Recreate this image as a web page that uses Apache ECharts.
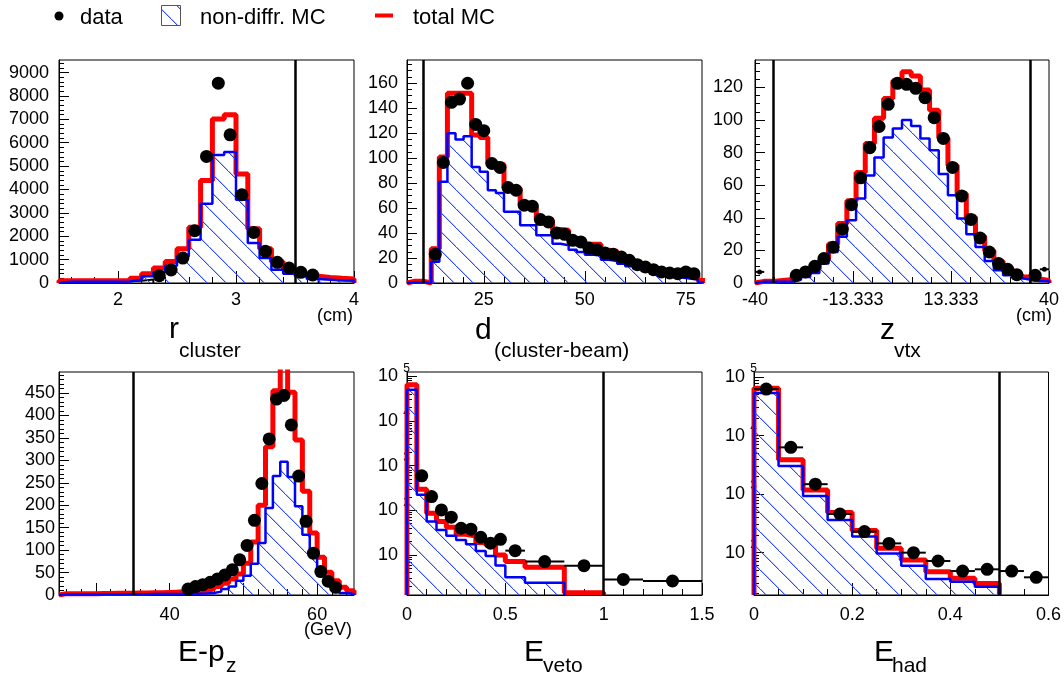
<!DOCTYPE html>
<html>
<head>
<meta charset="utf-8">
<script src="https://cdn.jsdelivr.net/npm/echarts@6/dist/echarts.min.js"></script>
<style>
  html, body { margin: 0; background: #fff; }
  #chart { width: 1064px; height: 678px; }
</style>
</head>
<body>
<div id="chart"></div>
<script>
const FONT = '"Liberation Sans", Arial, Helvetica, sans-serif';

function bins(lo, w, n) {
  return Array.from({length: n + 1}, (_, i) => +(lo + i * w).toFixed(6));
}
function steps(a, b, d) {
  const out = [];
  for (let v = a; v <= b + d * 1e-6; v += d) out.push(+v.toFixed(6));
  return out;
}
function logMinor(lo, hi) {
  const out = [];
  for (let e = -1; e <= 6; e++) for (let m = 2; m <= 9; m++) {
    const v = m * Math.pow(10, e);
    if (v >= lo && v <= hi) out.push(v);
  }
  return out;
}

// ---- r_cluster (cm), bins of 0.1
const rEdges = bins(1.5, 0.1, 25);
const rTotalMC   = [100,100,100,100,100,110,200,400,640,925,1460,2380,4390,7020,7200,4660,2320,1470,910,600,385,285,240,200,170];
const rNonDiffMC = [50,50,50,50,50,60,140,285,455,740,1140,1850,3390,5480,5600,3560,1710,1070,570,400,285,170,140,110,100];
const rDataX = [2.35,2.45,2.55,2.65,2.75,2.85,2.95,3.05,3.15,3.25,3.35,3.45,3.55,3.65];
const rDataY = [313,555,1068,2236,5413,8547,6339,3775,2165,1353,883,641,456,342];
const rTailLoEdges = bins(1.5, 0.1, 8);
const rTailLo = [60,60,60,60,60,70,100,150];
const rTailHiEdges = bins(3.7, 0.1, 3);
const rTailHi = [230,190,160];
const rXLabels = [2,3,4];
const rYLabels = [0,1000,2000,3000,4000,5000,6000,7000,8000,9000];

// ---- d(cluster-beam), bins of 2
const dEdges = bins(6, 2, 37);
const dTotalMC   = [1.5,1.5,0,27.5,101,152,152,152,118.5,116.6,95.7,95,76.5,75.7,62.3,61,50.8,50.3,42.8,42.2,35.6,34.2,31,31,26.2,25.4,22.2,19.5,16,13.4,11.5,9.6,8.8,8,7,6.1,2];
const dNonDiffMC = [0.5,0.5,0,17,81,120,115,117.6,93,89,74.3,72,57,57,46.3,46.3,38.2,38.2,31.5,30.2,26.7,24.9,22.7,22.2,18.7,17.6,15.5,13.4,11.5,9.6,8,6.1,5.3,4.3,3.5,2.7,0.5];
const dDataX = [13,15,17,19,21,23,25,27,29,31,33,35,37,39,41,43,45,47,49,51,53,55,57,59,61,63,65,67,69,71,73,75,77];
const dDataY = [23,96.5,144.7,147.3,160,127,122,95.7,92.5,76.5,74.3,62.3,61.5,50.8,48.9,40,39,34.2,32.9,28,26.7,24,23,20.9,18.2,14.7,12.8,10.7,8.8,8,7.5,8.8,7.5];
const dTailEdges = bins(6, 2, 3);
const dTail = [1.5,1.5,0.5];
const dXLabels = [25,50,75];
const dYLabels = [0,20,40,60,80,100,120,140,160];

// ---- z_vtx (cm), bins of 2.5
const zEdges = bins(-40, 2.5, 32);
const zTotalMC   = [1,1,1.6,2,3.7,5.7,8.8,14,24,36.5,50.4,67.8,85.6,101,113.2,124,129.6,127,118.4,106,89,72.3,54.9,40.5,28.9,20,13.3,8.8,5.3,3.7,2.5,1.6];
const zNonDiffMC = [0.8,0.8,0.8,0.8,2,3.7,6.1,11.9,19,28.3,38.5,51.8,66,77,89.3,94.8,100,96.3,88.7,81.5,66.8,53.9,39.5,29.9,22.1,13.5,7.8,4.7,3.1,2,1.2,1.2];
const zDataX = [-28.75,-26.25,-23.75,-21.25,-18.75,-16.25,-13.75,-11.25,-8.75,-6.25,-3.75,-1.25,1.25,3.75,6.25,8.75,11.25,13.75,16.25,18.75,21.25,23.75,26.25,28.75,31.25,36.25];
const zDataY = [4.7,6.8,10.2,15,22,33,48,64.5,83,96,109.6,122.5,121.9,119.4,113.7,101.4,88.7,70.9,53.4,39,27.6,19,11.9,8.4,5.1,4.7];
const zOutX = [-38.75,38.75];
const zOutY = [6.8,8.4];
const zTailEdges = bins(-35, 2.5, 2);
const zTail = [1.5,2.2];
const zXLabels = [-40,-13.333,13.333,40];
const zYLabels = [0,20,40,60,80,100,120];

// ---- E-pz (GeV), bins of 1
const eEdges = bins(25, 1, 40);
const eTotalMC   = [3,3,3,3,3,3.5,3.5,4,4,4,4.5,4.5,5,5,5.5,6,6.5,7,8,9.7,13.4,18.7,26,35.8,47,70.9,118,200,330.6,455,540,452,345.5,231,138,84.3,50.7,32,17.2,9.7];
const eNonDiffMC = [1,1,1,1,1,1,1,1,1.5,1.5,1.5,1.5,2,2,2,2,2.5,2.5,3,3.5,4.5,7.5,13.4,18.7,32,43,69.4,115.7,194,265,297,263,197.8,134.3,84.3,47,22.4,9.7,4.5,2];
const eDataX = [42.5,43.5,44.5,45.5,46.5,47.5,48.5,49.5,50.5,51.5,52.5,53.5,54.5,55.5,56.5,57.5,58.5,59.5,60.5,61.5,62.5];
const eDataY = [13.4,18.7,23,28.4,35.8,44.8,56,78.4,110.4,166.4,248.5,347.8,436.6,444.8,379,265,164.2,93.3,52.2,30.6,17.2];
const eTailEdges = bins(25, 1, 17);
const eTail = [0.5,0.8,1,1.3,1.6,2,2.4,2.8,3.2,3.7,4.2,4.9,5.6,6.5,7.5,8.7,10];
const eXLabels = [40,60];
const eYLabels = [0,50,100,150,200,250,300,350,400,450];

// ---- E_veto (log)
const vTotalEdges = [0,0.05,0.1,0.15,0.2,0.25,0.3,0.35,0.4,0.45,0.5,0.6,0.8,1.0];
const vTotalMC    = [64600,295,86,56,42,29,26.7,18.9,16.8,10,7.1,5.3,1.43];
const vNonDiffEdges = [0,0.05,0.1,0.15,0.2,0.25,0.3,0.35,0.4,0.45,0.5,0.6,0.8];
const vNonDiffMC    = [50000,222,56,36,27,21.7,17.4,12.3,9.5,5.8,3.16,2.4];
const vDataX  = [0.075,0.125,0.175,0.225,0.275,0.325,0.375,0.425,0.475,0.55,0.7,0.9,1.1,1.35];
const vDataY  = [590,203,102,70,39.6,37.7,24.9,18.3,22.4,12.5,7.1,5.76,2.84,2.61];
const vDataLo = [null,null,null,null,null,null,null,null,null,0.5,0.6,0.8,1.0,1.2];
const vDataHi = [null,null,null,null,null,null,null,null,null,0.6,0.8,1.0,1.2,1.5];
const vXLabels = [0,0.5,1,1.5];
const vYLabels = [10,100,1000,10000,100000];

// ---- E_had (log), bins of 0.05
const hEdges = bins(0, 0.05, 10);
const hTotalMC   = [64700,3860,1180,484,238,119,75,47,36.4,29.8];
const hNonDiffMC = [53300,3040,933,362,188,97,60,35.5,31.9,26.2];
const hDataEdges = bins(0, 0.05, 12);
const hDataY = [62400,6300,1480,458,229,144,100,72,48.5,51.9,48.5,37.9];
const hXLabels = [0,0.2,0.4,0.6];
const hYLabels = [100,1000,10000,100000];

// hatch pattern for the non-diffractive MC: thin "\" lines
const hatch = document.createElement('canvas');
hatch.width = hatch.height = 19;
const hg = hatch.getContext('2d');
hg.fillStyle = '#2f4dff';
for (let k = 0; k < 19; k++) hg.fillRect(k, k, 1, 1);
hg.fillStyle = 'rgba(47,77,255,0.35)';
for (let k = 0; k < 18; k++) hg.fillRect(k + 1, k, 1, 1);
const hatchFill = {image: hatch, repeat: 'repeat'};

function histPts(edges, vals, base) {
  const n = vals.length;
  const pts = [[edges[0], base]];
  vals.forEach((v, i) => pts.push([edges[i], Math.max(v, base)]));
  pts.push([edges[n], Math.max(vals[n - 1], base)]);
  pts.push([edges[n], base]);
  return pts;
}

const linFmt = v => String(v);
const logFmt = v => {
  const e = Math.round(Math.log10(v));
  return '{b|10}{s|' + (e === 1 ? ' ' : e) + '}';
};
const rich = {
  b: {fontSize: 18, fontFamily: FONT, color: '#000', verticalAlign: 'middle'},
  s: {fontSize: 12, fontFamily: FONT, color: '#000', verticalAlign: 'top', padding: [0, 0, 16, 5], width: 7}
};

const panels = [
  {box: [59, 60, 295, 223],
   x: {min: 1.5, max: 4, major: rXLabels, labels: rXLabels, minor: steps(1.6, 3.8, 0.2)}, xm: 8,
   y: {min: 0, max: 9540, major: rYLabels, labels: rYLabels, minor: steps(200, 9400, 200)}, ym: 10,
   total: [rEdges, rTotalMC], nd: [rEdges, rNonDiffMC], data: [rDataX, rDataY],
   tails: [[rTailLoEdges, rTailLo], [rTailHiEdges, rTailHi]], cuts: [3.5]},
  {box: [407, 60, 295, 223],
   x: {min: 6, max: 79, major: dXLabels, labels: dXLabels, minor: steps(10, 75, 5)}, xm: 8,
   y: {min: 0, max: 178.6, major: dYLabels, labels: dYLabels, minor: steps(5, 175, 5)}, ym: 9,
   total: [dEdges, dTotalMC], nd: [dEdges, dNonDiffMC], data: [dDataX, dDataY],
   tails: [[dTailEdges, dTail]], cuts: [10]},
  {box: [755, 60, 294, 223],
   x: {min: -40, max: 40, major: zXLabels, labels: zXLabels,
       minor: [-34.667,-29.333,-24,-18.667,-8,-2.667,2.667,8,18.667,24,29.333,34.667]}, xm: 8,
   y: {min: 0, max: 136.8, major: zYLabels, labels: zYLabels, minor: steps(5, 135, 5)}, ym: 12,
   total: [zEdges, zTotalMC], nd: [zEdges, zNonDiffMC], data: [zDataX, zDataY],
   small: [zOutX, zOutY, 1.25], tails: [[zTailEdges, zTail]], cuts: [-35, 35]},
  {box: [59, 372, 295, 223],
   x: {min: 25, max: 65, major: [30, 40, 50, 60], labels: eXLabels, minor: steps(26, 64, 2)}, xm: 11.5,
   y: {min: 0, max: 497, major: eYLabels, labels: eYLabels, minor: steps(10, 490, 10)}, ym: 4,
   total: [eEdges, eTotalMC], nd: [eEdges, eNonDiffMC], data: [eDataX, eDataY],
   tails: [[eTailEdges, eTail]], cuts: [35]},
  {box: [407, 372, 295, 223],
   x: {min: 0, max: 1.5, major: vXLabels, labels: vXLabels, minor: steps(0.1, 1.4, 0.1)}, xm: 11.5,
   y: {log: true, min: 1.27, max: 124700, major: vYLabels, labels: vYLabels, minor: logMinor(1.27, 124700)}, ym: -3,
   total: [vTotalEdges, vTotalMC], nd: [vNonDiffEdges, vNonDiffMC], data: [vDataX, vDataY],
   bars: vDataX.map((x, k) => vDataLo[k] == null ? null : [vDataLo[k], vDataHi[k], vDataY[k]]).filter(Boolean),
   tails: [], cuts: [1]},
  {box: [754, 372, 295, 223],
   x: {min: 0, max: 0.6, major: hXLabels, labels: hXLabels, minor: steps(0.05, 0.55, 0.05)}, xm: 11.5,
   y: {log: true, min: 18.9, max: 122200, major: hYLabels, labels: hYLabels, minor: logMinor(18.9, 122200)}, ym: -3,
   total: [hEdges, hTotalMC], nd: [hEdges, hNonDiffMC],
   data: [hDataY.map((_, k) => (hDataEdges[k] + hDataEdges[k + 1]) / 2), hDataY],
   bars: hDataY.map((y, k) => [hDataEdges[k], hDataEdges[k + 1], y]),
   tails: [], cuts: [0.5]}
];

function axisPair(dim, i, a, margin) {
  const notMajor = a.minor.filter(v => !a.major.some(m => Math.abs(m - v) < 1e-6));
  const common = {
    gridIndex: i, type: a.log ? 'log' : 'value', min: a.min, max: a.max,
    position: dim === 'x' ? 'bottom' : 'left', splitLine: {show: false}, silent: true
  };
  return [
    {...common,
     axisLine: {show: true, onZero: false, lineStyle: {color: '#000', width: 1}},
     axisTick: {show: true, inside: true, length: dim === 'x' ? 12 : 10, customValues: a.major,
                lineStyle: {color: '#000', width: 1}},
     axisLabel: {show: true, customValues: a.labels, formatter: a.log ? logFmt : linFmt, margin,
                 color: '#000', fontSize: 18, fontFamily: FONT, rich}},
    {...common,
     axisLine: {show: false, onZero: false},
     axisLabel: {show: false},
     axisTick: {show: true, inside: true, length: dim === 'x' ? 6 : 5, customValues: notMajor,
                lineStyle: {color: '#000', width: 1}}}
  ];
}

const barItem = (params, api) => {
  const p0 = api.coord([api.value(0), api.value(2)]);
  const p1 = api.coord([api.value(1), api.value(2)]);
  return {type: 'line', shape: {x1: p0[0], y1: p0[1], x2: p1[0], y2: p1[1]},
          style: {stroke: '#000', lineWidth: 2}};
};

const grids = [], xAxes = [], yAxes = [], series = [];
panels.forEach((p, i) => {
  grids.push({left: p.box[0], top: p.box[1], width: p.box[2], height: p.box[3],
              show: true, borderColor: '#000', borderWidth: 1, backgroundColor: '#fff'});
  xAxes.push(...axisPair('x', i, p.x, p.xm));
  yAxes.push(...axisPair('y', i, p.y, p.ym));
  const ax = {xAxisIndex: 2 * i, yAxisIndex: 2 * i, silent: true, animation: false};
  const base = p.y.log ? p.y.min : 0;
  p.tails.forEach(t => series.push({...ax, type: 'line', step: 'end', symbol: 'none', z: 2,
    data: histPts(t[0], t[1], base), lineStyle: {color: '#000', width: 2}}));
  series.push({...ax, type: 'line', step: 'end', symbol: 'none', z: 3,
    data: histPts(p.total[0], p.total[1], base), lineStyle: {color: '#ff0000', width: 5}});
  series.push({...ax, type: 'line', step: 'end', symbol: 'none', z: 4,
    data: histPts(p.nd[0], p.nd[1], base), lineStyle: {color: '#0000ff', width: 2.5},
    areaStyle: {color: hatchFill, opacity: 1, origin: 'start'}});
  if (p.bars) series.push({...ax, type: 'custom', clip: true, z: 5, renderItem: barItem,
    encode: {x: [0, 1], y: 2}, data: p.bars});
  if (p.small) {
    const [sx, sy, hw] = p.small;
    series.push({...ax, type: 'custom', clip: true, z: 5, renderItem: barItem,
      encode: {x: [0, 1], y: 2}, data: sx.map((x, k) => [x - hw, x + hw, sy[k]])});
    series.push({...ax, type: 'scatter', symbolSize: 5, z: 6, itemStyle: {color: '#000', opacity: 1},
      data: sx.map((x, k) => [x, sy[k]])});
  }
  series.push({...ax, type: 'scatter', symbolSize: 13, z: 6, itemStyle: {color: '#000', opacity: 1},
    data: p.data[0].map((x, k) => [x, p.data[1][k]]),
    markLine: {silent: true, symbol: ['none', 'none'], label: {show: false}, animation: false,
      lineStyle: {color: '#000', width: 2.5, type: 'solid', opacity: 1},
      data: p.cuts.map(c => ({xAxis: c}))}});
});

function txt(s, x, base, size, align) {
  return {type: 'text', x, y: base - 0.33 * size, silent: true,
    style: {text: s, font: size + 'px ' + FONT, fill: '#000', align: align || 'left', verticalAlign: 'middle'}};
}

const graphic = [
  {type: 'circle', shape: {cx: 59, cy: 16, r: 4.5}, style: {fill: '#000'}},
  txt('data', 80, 25, 22),
  {type: 'rect', shape: {x: 161.5, y: 5.5, width: 19, height: 20}, style: {fill: hatchFill, stroke: '#555', lineWidth: 1}},
  txt('non-diffr. MC', 200, 25, 22),
  {type: 'line', shape: {x1: 375, y1: 15.5, x2: 393, y2: 15.5}, style: {stroke: '#ff0000', lineWidth: 4}},
  txt('total MC', 413, 25, 22),
  txt('r', 169, 340, 30), txt('cluster', 179, 358, 21),
  txt('d', 475, 341, 30), txt('(cluster-beam)', 494, 358, 21),
  txt('z', 880, 341, 30), txt('vtx', 894, 358, 21),
  txt('E-p', 178, 663, 30), txt('z', 226, 673, 21),
  txt('E', 524, 663, 30), txt('veto', 543, 673, 21),
  txt('E', 874, 663, 30), txt('had', 892, 673, 21),
  txt('(cm)', 353, 322, 18, 'right'),
  txt('(cm)', 1052, 322, 18, 'right'),
  txt('(GeV)', 352, 636, 18, 'right')
];

const chart = echarts.init(document.getElementById('chart'), null, {renderer: 'canvas'});
chart.setOption({
  animation: false,
  backgroundColor: '#fff',
  grid: grids,
  xAxis: xAxes,
  yAxis: yAxes,
  series,
  graphic
});
</script>
</body>
</html>
